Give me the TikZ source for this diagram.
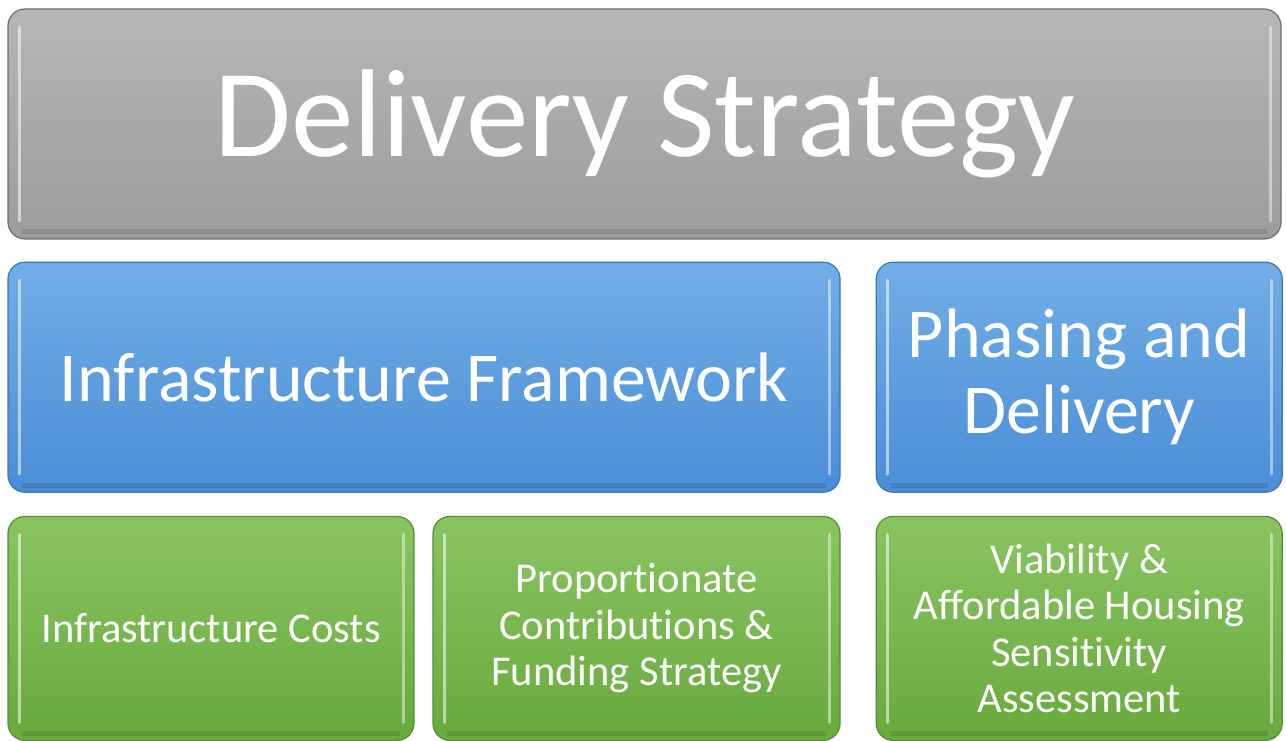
\documentclass[tikz,border=0pt]{standalone}
\usepackage{fontspec}
\setmainfont[Ligatures=CommonOff]{Carlito}
\usetikzlibrary{positioning}
\definecolor{greytop}{HTML}{B6B6B6}
\definecolor{greybot}{HTML}{9C9C9C}
\definecolor{greyedge}{HTML}{6E6E6E}
\definecolor{bluetop}{HTML}{72AEE6}
\definecolor{bluebot}{HTML}{4A8ED6}
\definecolor{blueedge}{HTML}{3A76B6}
\definecolor{greentop}{HTML}{8AC461}
\definecolor{greenbot}{HTML}{68AA3E}
\definecolor{greenedge}{HTML}{558C33}
\tikzset{
  tile/.style={rectangle, rounded corners=17pt, line width=1.2pt, text=white, align=center,
    inner sep=0pt,
    path picture={
      \draw[white, opacity=.55, line width=3pt, line cap=round]
        ([xshift=11pt,yshift=-18pt]path picture bounding box.north west) --
        ([xshift=11pt,yshift=18pt]path picture bounding box.south west);
      \draw[white, opacity=.45, line width=3pt, line cap=round]
        ([xshift=-11pt,yshift=-18pt]path picture bounding box.north east) --
        ([xshift=-11pt,yshift=18pt]path picture bounding box.south east);
      \draw[black, opacity=.10, line width=5pt]
        ([xshift=14pt,yshift=7pt]path picture bounding box.south west) --
        ([xshift=-14pt,yshift=7pt]path picture bounding box.south east);
    }},
  headtile/.style={tile, top color=greytop, bottom color=greybot, draw=greyedge,
    font=\fontsize{125}{130}\selectfont},
  bluetile/.style={tile, top color=bluetop, bottom color=bluebot, draw=blueedge,
    font=\fontsize{70}{76}\selectfont},
  greentile/.style={tile, top color=greentop, bottom color=greenbot, draw=greenedge,
    font=\fontsize{42.5}{46.5}\selectfont}
}
\begin{document}
\begin{tikzpicture}[x=1pt, y=1pt, node distance=22pt and 35pt]
\useasboundingbox (0,0) rectangle (1286,740);
\node (delivery) [headtile, minimum width=1273pt, minimum height=230pt] at (644.5,616) {Delivery Strategy};
\node (infra) [bluetile, minimum width=832pt, minimum height=230pt, below=22pt of delivery.south west, anchor=north west] {Infrastructure Framework};
\node (phasing) [bluetile, minimum width=406pt, minimum height=230pt, right=of infra] {Phasing and\\Delivery};
\node (costs) [greentile, minimum width=406pt, minimum height=224pt, below=23pt of infra.south west, anchor=north west] {Infrastructure Costs};
\node (funding) [greentile, minimum width=407pt, minimum height=224pt, below=23pt of infra.south east, anchor=north east] {Proportionate\\Contributions \&\\Funding Strategy};
\node (viability) [greentile, minimum width=406pt, minimum height=224pt, below=23pt of phasing] {Viability \&\\Affordable Housing\\Sensitivity\\Assessment};
\end{tikzpicture}
\end{document}
